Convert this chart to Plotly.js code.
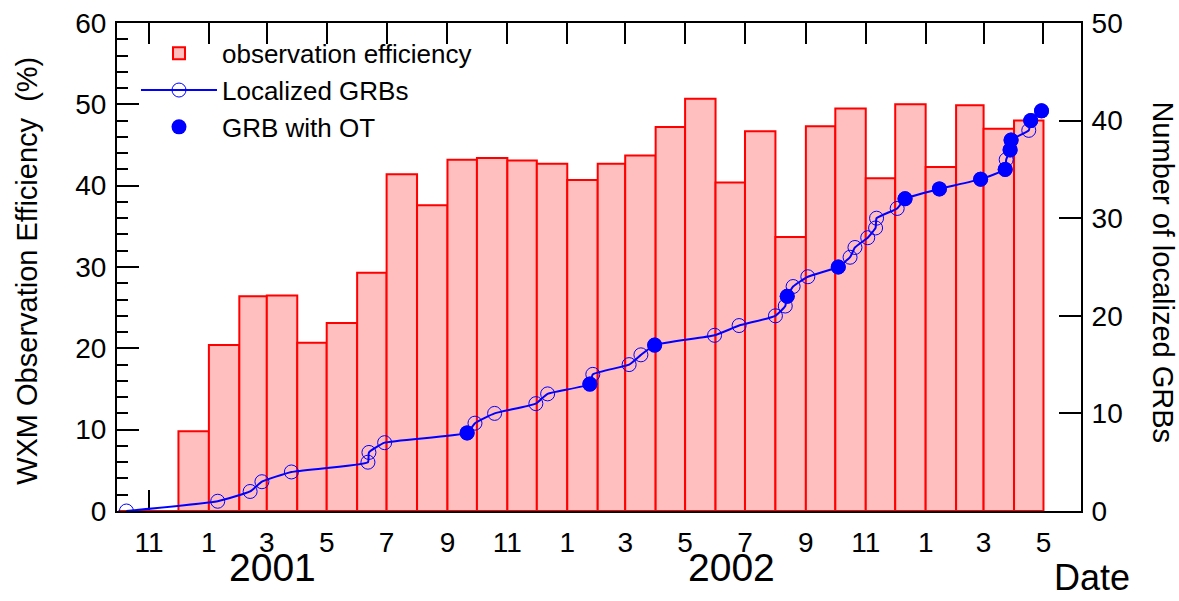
<!DOCTYPE html>
<html><head><meta charset="utf-8">
<script src="https://cdn.plot.ly/plotly-3.0.1.min.js"></script>
<style>html,body{margin:0;padding:0;background:#fff}#chart{width:1179px;height:601px}</style>
</head><body><div id="chart"></div>
<script>
// Monthly WXM observation efficiency (%), bar = calendar month starting at the given date
const effMonths = ["2000-10-01","2000-11-01","2000-12-01",
  "2001-01-01","2001-02-01","2001-03-01","2001-04-01","2001-05-01","2001-06-01",
  "2001-07-01","2001-08-01","2001-09-01","2001-10-01","2001-11-01","2001-12-01",
  "2002-01-01","2002-02-01","2002-03-01","2002-04-01","2002-05-01","2002-06-01",
  "2002-07-01","2002-08-01","2002-09-01","2002-10-01","2002-11-01","2002-12-01",
  "2003-01-01","2003-02-01","2003-03-01","2003-04-01"];
const effEnd = "2003-05-01";
const effValues = [0,0,9.8,
  20.4,26.4,26.5,20.7,23.1,29.3,
  41.4,37.6,43.2,43.4,43.1,42.7,
  40.7,42.7,43.7,47.2,50.7,40.4,
  46.7,33.7,47.3,49.5,40.9,50.0,
  42.3,49.9,47.0,48.0];

// Localized GRBs: date, cumulative number, optical transient flag
const grbDates = ["2000-10-09","2001-01-10","2001-02-12","2001-02-24","2001-03-26",
  "2001-06-12","2001-06-13","2001-06-29","2001-09-21","2001-09-29","2001-10-19",
  "2001-11-30","2001-12-12","2002-01-24","2002-01-27","2002-03-05","2002-03-17",
  "2002-03-31","2002-05-31","2002-06-25","2002-08-01","2002-08-11","2002-08-13",
  "2002-08-19","2002-09-03","2002-10-04","2002-10-16","2002-10-21","2002-11-03",
  "2002-11-11","2002-11-12","2002-12-03","2002-12-11","2003-01-15","2003-02-26",
  "2003-03-23","2003-03-24","2003-03-28","2003-03-29","2003-04-16","2003-04-18",
  "2003-04-29"];
const grbCount = [0,1,2,3,4,5,6,7,8,9,10,11,12,13,14,15,16,17,18,19,20,21,22,23,24,25,
  26,27,28,29,30,31,32,33,34,35,36,37,38,39,40,41];
const grbOT = [0,0,0,0,0,0,0,0,1,0,0,0,0,1,0,0,0,1,0,0,0,0,1,0,0,1,
  0,0,0,0,0,0,1,1,1,1,0,1,1,0,1,1];

// Axis ticks
const xTickDates = ["2000-11-01","2001-01-01","2001-03-01","2001-05-01","2001-07-01",
  "2001-09-01","2001-11-01","2002-01-01","2002-03-01","2002-05-01","2002-07-01",
  "2002-09-01","2002-11-01","2003-01-01","2003-03-01","2003-05-01"];
const xTickLabels = ["11","1","3","5","7","9","11","1","3","5","7","9","11","1","3","5"];
const yearLabels = ["2001","2002"];

const FONT = "Liberation Sans, Arial, Helvetica, sans-serif";

const monthEdges = effMonths.concat([effEnd]);
const barWidths = effMonths.map((d,i)=> new Date(monthEdges[i+1]) - new Date(d));

// zero-efficiency months drawn as a flat outline along the axis
const zx = [], zy = [];
effValues.forEach((v,i)=>{ if(v===0){ zx.push(monthEdges[i], monthEdges[i+1], null); zy.push(0,0,null);} });

const otDates = grbDates.filter((d,i)=>grbOT[i]===1);
const otCount = grbCount.filter((c,i)=>grbOT[i]===1);

const traces = [
  {type:"bar", name:"observation efficiency", x:effMonths, y:effValues,
   width:barWidths, offset:0, xaxis:"x", yaxis:"y",
   marker:{color:"#ffbfbf", line:{color:"#ff0000", width:2}}},
  {type:"scatter", mode:"lines", x:zx, y:zy, xaxis:"x", yaxis:"y", showlegend:false,
   hoverinfo:"skip", line:{color:"#ff0000", width:2}},
  {type:"scatter", mode:"lines+markers", name:"Localized GRBs", x:grbDates, y:grbCount,
   xaxis:"x", yaxis:"y2",
   line:{color:"#0000ff", width:2, shape:"spline", smoothing:0.4},
   marker:{symbol:"circle-open", size:14, color:"#0000ff", line:{width:1}}},
  {type:"scatter", mode:"markers", name:"GRB with OT", x:otDates, y:otCount,
   xaxis:"x", yaxis:"y2",
   marker:{symbol:"circle", size:15, color:"#0000ff"}}
];

const layout = {
  width:1179, height:601,
  margin:{l:117, r:98, t:23, b:90},
  paper_bgcolor:"#ffffff", plot_bgcolor:"#ffffff",
  font:{family:FONT, size:28, color:"#000"},
  bargap:0,
  showlegend:true,
  legend:{x:0.0197, y:0.986, xanchor:"left", yanchor:"top", bgcolor:"rgba(0,0,0,0)",
    font:{family:FONT, size:26}, itemwidth:76, traceorder:"normal"},
  xaxis:{type:"date", range:["2000-09-29 10:00","2003-06-08 05:00"],
    tickmode:"array", tickvals:xTickDates, ticktext:xTickLabels,
    ticks:"inside", ticklen:21, tickwidth:2, tickcolor:"#000",
    showline:true, linecolor:"#000", linewidth:2, mirror:"ticks",
    showgrid:false, zeroline:false, layer:"below traces",
    tickfont:{family:FONT, size:28}, ticklabelstandoff:5},
  yaxis:{range:[0,60], tickmode:"linear", tick0:0, dtick:10,
    ticks:"inside", ticklen:22, tickwidth:2, tickcolor:"#000",
    minor:{dtick:2, ticklen:11, tickwidth:2, ticks:"inside", tickcolor:"#000"},
    showline:true, linecolor:"#000", linewidth:2, showgrid:false, zeroline:false,
    tickfont:{family:FONT, size:28}, ticklabelstandoff:3},
  yaxis2:{overlaying:"y", side:"right", range:[0,50], tickmode:"linear", tick0:0, dtick:10,
    ticks:"inside", ticklen:22, tickwidth:2, tickcolor:"#000",
    showline:true, linecolor:"#000", linewidth:2, showgrid:false, zeroline:false,
    tickfont:{family:FONT, size:28}, ticklabelstandoff:3},
  annotations:[
    {text:"WXM Observation Efficiency  (%)", xref:"paper", yref:"paper", x:-0.0934, y:0.492,
     xanchor:"center", yanchor:"middle", textangle:-90, showarrow:false, font:{family:FONT, size:29}},
    {text:"Number of localized GRBs", xref:"paper", yref:"paper", x:1.085, y:0.489,
     xanchor:"center", yanchor:"middle", textangle:90, showarrow:false, font:{family:FONT, size:29}},
    {text:yearLabels[0], xref:"paper", yref:"paper", x:0.1608, y:-0.115, xanchor:"center", yanchor:"middle",
     showarrow:false, font:{family:FONT, size:39}},
    {text:yearLabels[1], xref:"paper", yref:"paper", x:0.637, y:-0.115, xanchor:"center", yanchor:"middle",
     showarrow:false, font:{family:FONT, size:39}},
    {text:"Date", xref:"paper", yref:"paper", x:1.0114, y:-0.1824, xanchor:"center", yanchor:"bottom",
     showarrow:false, font:{family:FONT, size:36}}
  ]
};

Plotly.newPlot("chart", traces, layout, {displayModeBar:false, staticPlot:true});
</script></body></html>
